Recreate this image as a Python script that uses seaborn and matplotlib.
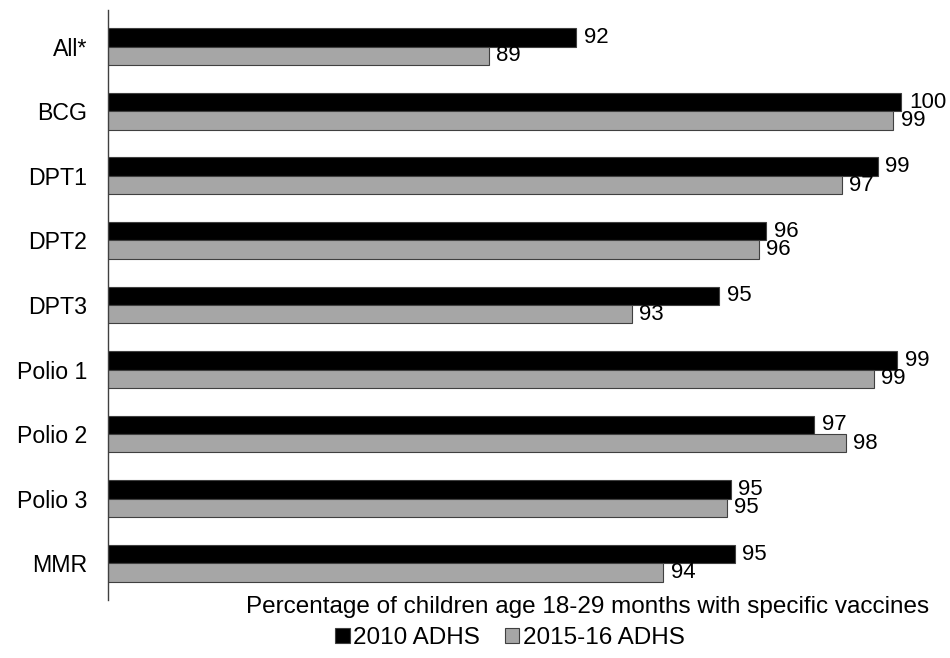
import matplotlib
matplotlib.use("Agg")
import matplotlib.pyplot as plt
from matplotlib.patches import Patch
import pandas as pd
import seaborn as sns

vaccines = ["All*", "BCG", "DPT1", "DPT2", "DPT3", "Polio 1", "Polio 2", "Polio 3", "MMR"]
# bar lengths
adhs_2010 = [91.8, 100.0, 99.4, 96.6, 95.4, 99.9, 97.8, 95.7, 95.8]
adhs_2015 = [89.6, 99.8, 98.5, 96.4, 93.2, 99.3, 98.6, 95.6, 94.0]
# printed data labels
labels_2010 = ["92", "100", "99", "96", "95", "99", "97", "95", "95"]
labels_2015 = ["89", "99", "97", "96", "93", "99", "98", "95", "94"]
surveys = ["2010 ADHS", "2015-16 ADHS"]

PALETTE = {"2010 ADHS": "#000000", "2015-16 ADHS": "#A6A6A6"}

sns.set_style("white")
plt.rcParams["font.family"] = ["Liberation Sans", "DejaVu Sans"]
plt.rcParams["text.color"] = "black"
plt.rcParams["ytick.color"] = "black"

df = pd.DataFrame({
    "Vaccine": vaccines * 2,
    "Percent": adhs_2010 + adhs_2015,
    "Survey": [surveys[0]] * len(vaccines) + [surveys[1]] * len(vaccines),
})

fig = plt.figure(figsize=(9.5, 6.58), dpi=100)
ax = fig.add_axes([108 / 950, 58 / 658, 833 / 950, 590 / 658])

sns.barplot(
    data=df,
    y="Vaccine",
    x="Percent",
    hue="Survey",
    palette=PALETTE,
    orient="h",
    width=0.57,
    edgecolor="#404040",
    linewidth=0.8,
    legend=False,
    ax=ax,
)

ax.set_xlim(80, 101)
ax.set_ylim(8.57, -0.57)
ax.set_xticks([])
ax.set_xlabel("")
ax.set_ylabel("")
ax.tick_params(axis="y", length=0, pad=15, labelsize=16.7, labelcolor="black")
for side in ["top", "right", "bottom"]:
    ax.spines[side].set_visible(False)
ax.spines["left"].set_color("#404040")
ax.spines["left"].set_linewidth(1.0)

for cont, labs in zip(ax.containers, [labels_2010, labels_2015]):
    ax.bar_label(cont, labels=labs, padding=5.5, fontsize=16, color="black", clip_on=False)

fig.text(588 / 950, 1 - 607 / 658,
         "Percentage of children age 18-29 months with specific vaccines",
         ha="center", va="center", fontsize=17.5, color="black")

handles = [Patch(facecolor=PALETTE[s], edgecolor="#404040", linewidth=0.8) for s in surveys]
fig.legend(handles, surveys, loc="center", bbox_to_anchor=(510 / 950, 1 - 638 / 658),
           ncol=2, frameon=False, handlelength=0.6, handleheight=0.6,
           handletextpad=0.15, columnspacing=1.0, fontsize=17.5, labelcolor="black")

fig.savefig("out.png", dpi=100)
